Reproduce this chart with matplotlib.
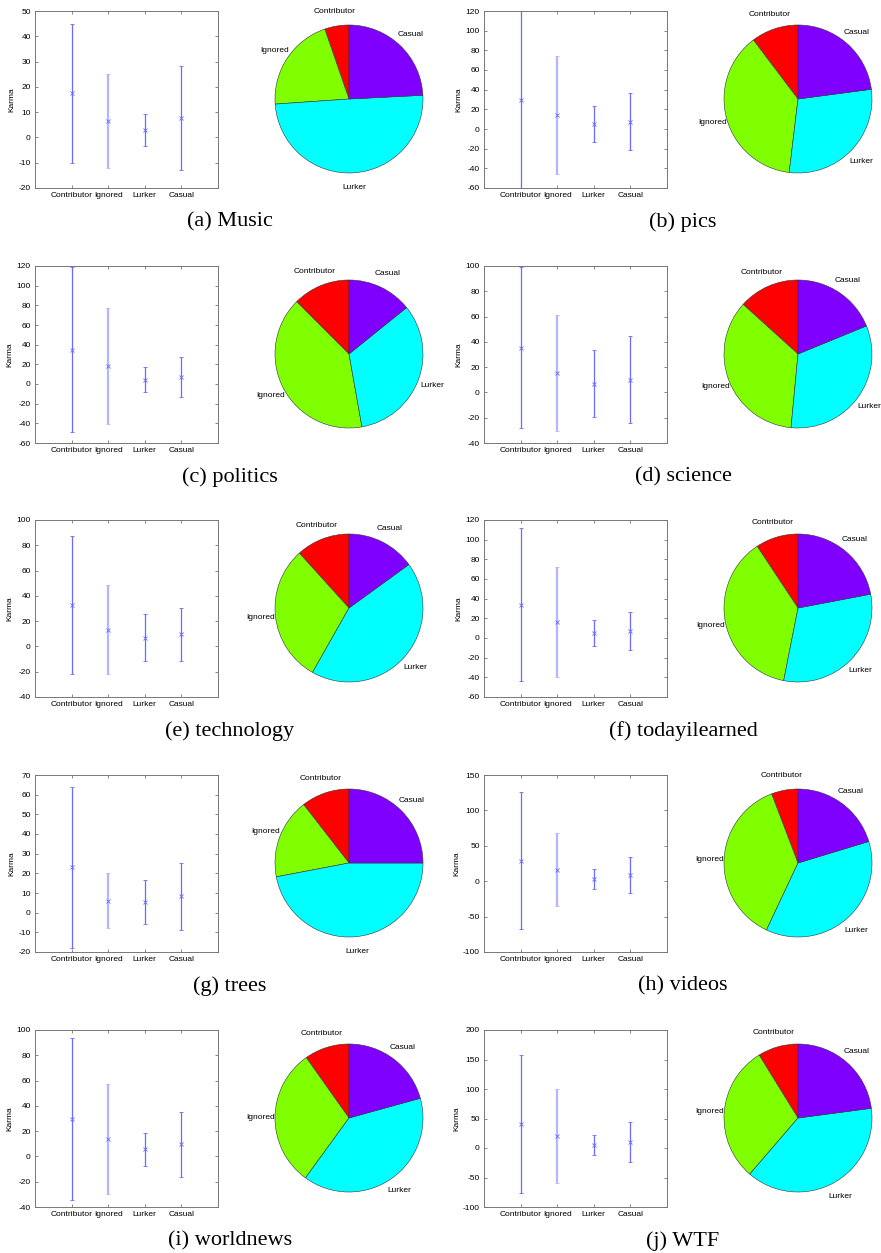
import matplotlib.pyplot as plt
import numpy as np

plt.rcParams['font.family'] = ['Liberation Sans', 'DejaVu Sans']
plt.rcParams['axes.unicode_minus'] = False

# categories / subreddits
categories = ['Contributor', 'Ignored', 'Lurker', 'Casual']
captions = ['(a) Music', '(b) pics', '(c) politics', '(d) science', '(e) technology',
            '(f) todayilearned', '(g) trees', '(h) videos', '(i) worldnews', '(j) WTF']

# mean karma per category
karma_mean = [
    [17.5, 6.5, 3.0, 7.8],
    [30.0, 14.0, 5.0, 7.5],
    [35.0, 18.0, 4.5, 7.0],
    [35.5, 15.5, 7.0, 10.0],
    [32.5, 13.0, 7.0, 9.5],
    [34.0, 16.0, 5.0, 7.0],
    [23.0, 6.0, 5.3, 8.3],
    [29.0, 16.0, 3.0, 8.5],
    [29.5, 13.5, 5.5, 9.5],
    [40.0, 20.0, 5.0, 10.5],
]
# standard deviation (half length of each error bar)
karma_std = [
    [27.5, 18.5, 6.2, 20.6],
    [95.0, 60.0, 18.0, 29.3],
    [83.5, 59.0, 13.0, 20.2],
    [63.5, 45.7, 26.2, 34.5],
    [54.7, 35.2, 18.5, 20.7],
    [77.5, 56.0, 13.5, 19.2],
    [41.0, 14.0, 11.3, 17.0],
    [97.0, 51.7, 14.0, 25.7],
    [64.0, 43.5, 13.2, 25.5],
    [117.0, 79.5, 16.7, 34.0],
]
# y axis ranges and tick step of each error bar plot
y_limits = [(-20, 50), (-60, 120), (-60, 120), (-40, 100), (-40, 100),
            (-60, 120), (-20, 70), (-100, 150), (-40, 100), (-100, 200)]
y_steps = [10, 20, 20, 20, 20, 20, 10, 50, 20, 50]

# share of users in each category (pie charts)
user_share = [
    [0.053, 0.208, 0.497, 0.242],
    [0.103, 0.378, 0.290, 0.229],
    [0.125, 0.403, 0.330, 0.142],
    [0.133, 0.352, 0.327, 0.188],
    [0.117, 0.301, 0.432, 0.150],
    [0.093, 0.376, 0.311, 0.220],
    [0.105, 0.175, 0.470, 0.250],
    [0.058, 0.372, 0.367, 0.203],
    [0.098, 0.302, 0.393, 0.207],
    [0.088, 0.299, 0.384, 0.229],
]

pie_colors = ['#ff0000', '#80ff00', '#00ffff', '#8000ff']
# the Ignored bar renders lighter and wider in the original
bar_colors = ['#6a6aff', '#b4b4ff', '#6a6aff', '#6a6aff']
bar_widths = [0.9, 1.6, 0.9, 0.9]

W, H = 881, 1253
fig = plt.figure(figsize=(W / 100, H / 100), dpi=100)


def box(x, y, w, h):
    # pixel box (top-left origin) -> figure fraction
    return [x / W, 1 - (y + h) / H, w / W, h / H]


col_ax_x = [35, 484]
col_pie_x = [349, 798]
col_cap_x = [230, 683]
row_top = [11, 266, 520, 775, 1030]
ax_w, ax_h = 183, 177
R = 74

for i in range(10):
    row, col = i // 2, i % 2
    top = row_top[row]

    # error bar plot
    ax = fig.add_axes(box(col_ax_x[col], top, ax_w, ax_h))
    x = np.arange(1, len(categories) + 1)
    for k in range(len(categories)):
        ax.errorbar(x[k], karma_mean[i][k], yerr=karma_std[i][k], fmt='x',
                    color=bar_colors[k], ecolor=bar_colors[k], mec='#6a6aff',
                    ms=3, mew=0.6, elinewidth=bar_widths[k], capsize=1.5,
                    capthick=0.8)
    ax.set_xlim(0, 5)
    lo, hi = y_limits[i]
    ax.set_ylim(lo, hi)
    ax.set_yticks(np.arange(lo, hi + 1, y_steps[i]))
    ax.set_xticks(x)
    ax.set_xticklabels(categories)
    ax.tick_params(direction='in', length=2.5, width=0.5, labelsize=6,
                   top=True, right=True, color='#555555', pad=3)
    for s in ax.spines.values():
        s.set_color('#777777')
        s.set_linewidth(0.7)
    ax.set_ylabel('Karma', fontsize=6, labelpad=2)

    # pie chart, labels centred at 1.2 radius
    cy = top + 88
    pax = fig.add_axes(box(col_pie_x[col] - R, cy - R, 2 * R, 2 * R))
    wedges, texts = pax.pie(user_share[i], labels=categories, colors=pie_colors,
                            startangle=90, counterclock=True, radius=1,
                            labeldistance=1.2,
                            wedgeprops=dict(edgecolor='#333333', linewidth=0.4),
                            textprops=dict(fontsize=6))
    for t in texts:
        t.set_ha('center')
        t.set_va('center')
    pax.set_xlim(-1, 1)
    pax.set_ylim(-1, 1)
    pax.set_aspect('equal')
    pax.axis('off')

    # caption
    fig.text(col_cap_x[col] / W, 1 - (top + 211) / H, captions[i],
             ha='center', va='center', fontsize=16, family='Liberation Serif')

fig.savefig('out.png', dpi=100)
